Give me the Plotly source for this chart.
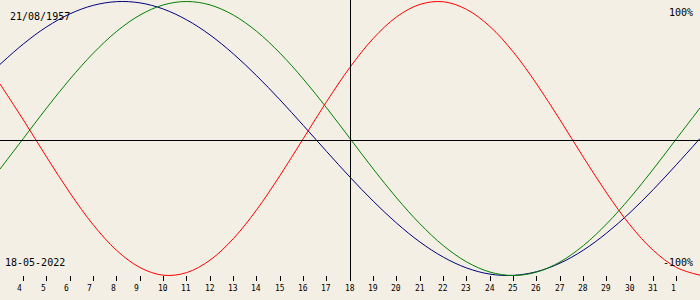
import plotly.graph_objects as go

# ---- data ----
days = list(range(3, 34))  # day 3 (May) .. day 33 (= 2 June)
physical = [39.8, 13.6, -13.6, -39.8, -63.1, -81.7, -94.2, -99.8, -97.9, -88.8,
            -73.1, -52.0, -27.0, 0.0, 27.0, 52.0, 73.1, 88.8, 97.9, 99.8,
            94.2, 81.7, 63.1, 39.8, 13.6, -13.6, -39.8, -63.1, -81.7, -94.2, -99.8]
emotional = [-22.3, 0.0, 22.3, 43.4, 62.3, 78.2, 90.1, 97.5, 100.0, 97.5,
             90.1, 78.2, 62.3, 43.4, 22.3, 0.0, -22.3, -43.4, -62.3, -78.2,
             -90.1, -97.5, -100.0, -97.5, -90.1, -78.2, -62.3, -43.4, -22.3, 0.0, 22.3]
intellectual = [54.1, 69.0, 81.5, 91.0, 97.2, 99.9, 99.0, 94.5, 86.6, 75.6,
                61.8, 45.8, 28.2, 9.5, -9.5, -28.2, -45.8, -61.8, -75.6, -86.6,
                -94.5, -99.0, -99.9, -97.2, -91.0, -81.5, -69.0, -54.1, -37.2, -18.9, 0.0]
tick_days = list(range(4, 33))
tick_labels = [str(d) for d in range(4, 32)] + ["1"]
birth_label = "21/08/1957"
date_label = "18-05-2022"
top_label = "100%"
bottom_label = "-100%"

W, H = 700, 300
BG = "#F3EFE4"
FONT = "DejaVu Sans Mono"

fig = go.Figure()
for vals, col in [(intellectual, "#000080"), (emotional, "#008000"), (physical, "#FF0000")]:
    fig.add_trace(go.Scatter(x=days, y=vals, mode="lines",
                             line=dict(color=col, width=1, shape="spline", smoothing=1),
                             hoverinfo="skip", showlegend=False))

# y mapping: centre at pixel 138.5, 137 px per 100%
top_v = 138.5 / 1.37
bot_v = (138.5 - H) / 1.37

fig.update_layout(
    width=W, height=H,
    margin=dict(l=0, r=0, t=0, b=0),
    paper_bgcolor=BG, plot_bgcolor=BG,
    xaxis=dict(range=[3, 33], showgrid=False, zeroline=False, showline=False,
               tickmode="array", tickvals=tick_days, ticks="outside", ticklen=5,
               tickwidth=1, tickcolor="black", showticklabels=False,
               anchor="free", position=(H - 275) / H),
    yaxis=dict(range=[bot_v, top_v], visible=False, showgrid=False, zeroline=False),
    showlegend=False,
)

# centre axes
fig.add_shape(type="line", xref="paper", yref="paper", x0=0, x1=1,
              y0=(H - 140.5) / H, y1=(H - 140.5) / H, line=dict(color="black", width=1))
fig.add_shape(type="line", xref="paper", yref="paper", x0=350.5 / W, x1=350.5 / W,
              y0=(H - 279) / H, y1=1, line=dict(color="black", width=1))

# tick labels
for d, lab in zip(tick_days, tick_labels):
    fig.add_annotation(x=d, xref="x", y=(H - 288) / H, yref="paper", text=lab,
                       showarrow=False, xanchor="center", yanchor="middle",
                       xshift=-0.3 if len(lab) == 2 else -3.5, borderpad=0,
                       font=dict(family=FONT, size=8, color="black"))

def txt(x, y, s, anchor):
    fig.add_annotation(x=x / W, xref="paper", y=(H - y) / H, yref="paper", text=s,
                       showarrow=False, xanchor=anchor, yanchor="middle", borderpad=0,
                       font=dict(family=FONT, size=10, color="black"))

txt(9, 17, birth_label, "left")
txt(4, 262, date_label, "left")
txt(694, 12, top_label, "right")
txt(694, 262, bottom_label, "right")

fig.write_html("out.html")
